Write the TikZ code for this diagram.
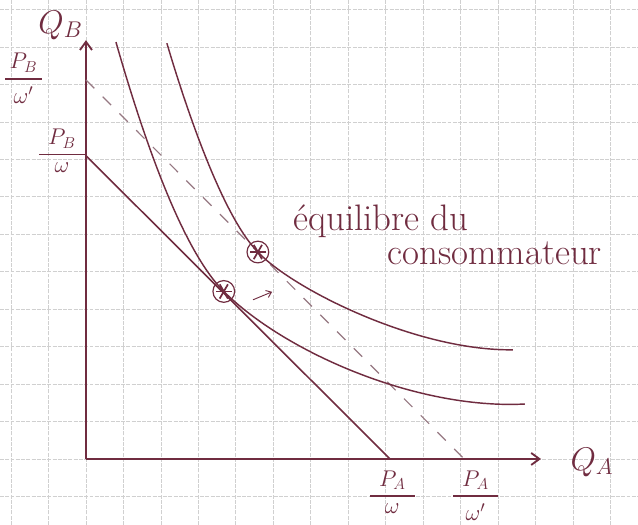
\documentclass[tikz,border=0pt]{standalone}
\usepackage{amsmath,amssymb}
\usepackage{tikz}
\usetikzlibrary{arrows.meta,positioning}
\definecolor{inkred}{RGB}{112,44,64}
\definecolor{inkpale}{RGB}{150,120,130}
\definecolor{gridgray}{RGB}{208,208,208}

\begin{document}
\begin{tikzpicture}[x=1cm,y=1.012cm,
    axisline/.style={inkred, line width=1.4pt},
    budget/.style={inkred, line width=1.2pt},
    indiff/.style={inkred, line width=1.1pt},
    marker/.style={circle, draw=inkred, line width=0.9pt, minimum size=5.8mm, inner sep=0pt,
      path picture={\foreach \a in {0,60,120}
        \draw[inkred, line width=1.3pt, shift={(path picture bounding box.center)}] (\a:2.2mm) -- (\a+180:2.2mm);}},
    fracbar/.style={fill=inkred, inner sep=0pt, minimum height=1.1pt},
    ticklabel/.style={inkred, inner sep=0pt, font=\fontsize{18}{21}\selectfont},
    handtext/.style={inkred, inner sep=0pt, font=\fontsize{28}{32}\selectfont}]
        \useasboundingbox (-2.296,-1.741) rectangle (14.74,12.11);
        \fill[white] (-2.296,-1.741) rectangle (14.74,12.11);
        \draw[gridgray, line width=0.5pt, dash pattern=on 3pt off 1pt] (-2.296,-1.741) grid (14.74,12.11);
        % axes
        \coordinate (O) at (0,0);
        \coordinate (ytop) at (0,11.05);
        \coordinate (xend) at (12.15,0);
        \draw[axisline, -{Straight Barb[length=2.2mm,width=3.2mm]}] (O) -- (ytop);
        \draw[axisline, -{Straight Barb[length=2.2mm,width=3.2mm]}] (O) -- (xend);
        \node[inkred, inner sep=0pt, font=\fontsize{26}{30}\selectfont] (QB) at (-0.68,11.45) {$Q_B$};
        \node[inkred, inner sep=0pt, font=\fontsize{26}{30}\selectfont] (QA) at (13.51,-0.08) {$Q_A$};
        % budget lines
        \coordinate (B1) at (0,8);
        \coordinate (A1) at (8.12,0);
        \coordinate (B2) at (0,10);
        \coordinate (A2) at (10.1,0);
        \draw[budget] (B1) -- (A1);
        \draw[inkpale, line width=0.9pt, dash pattern=on 9pt off 9pt] (B2) -- (A2);
        % intercept labels
        \node[fracbar, minimum width=12.5mm] (lb1) at (-0.64,8.03) {};
        \node[ticklabel, above=4pt of lb1] (lb1n) {$P_B$};
        \node[ticklabel, below=5pt of lb1] (lb1d) {$\omega$};
        \node[fracbar, minimum width=10mm] (lb2) at (-1.67,10.03) {};
        \node[ticklabel, above=4pt of lb2] (lb2n) {$P_B$};
        \node[ticklabel, below=5pt of lb2] (lb2d) {$\omega'$};
        \node[fracbar, minimum width=12mm] (la1) at (8.18,-0.98) {};
        \node[ticklabel, above=4pt of la1] (la1n) {$P_A$};
        \node[ticklabel, below=5pt of la1] (la1d) {$\omega$};
        \node[fracbar, minimum width=12mm] (la2) at (10.4,-0.98) {};
        \node[ticklabel, above=4pt of la2] (la2n) {$P_A$};
        \node[ticklabel, below=5pt of la2] (la2d) {$\omega'$};
        % indifference curves
        \coordinate (E1) at (3.68,4.42);
        \coordinate (E2) at (4.59,5.46);
        \draw[indiff] (0.80,11.0) .. controls (1.7,7.9) and (2.68,5.41) .. (E1)
          .. controls (5.28,2.84) and (8.8,1.3) .. (11.72,1.45);
        \draw[indiff] (2.16,10.97) .. controls (2.6,9.5) and (3.6,6.45) .. (E2)
          .. controls (5.5,4.5) and (8.8,2.85) .. (11.4,2.88);
        % equilibria
        \node[marker] (M1) at (E1) {};
        \node[marker] (M2) at (E2) {};
        \coordinate (mvs) at (4.46,4.2);
        \coordinate (mve) at (4.97,4.41);
        \draw[inkred, line width=0.7pt, -{Straight Barb[length=1.3mm,width=2mm]}] (mvs) -- (mve);
        \node[handtext, anchor=base west] (eqtop) at (5.53,6.02) {équilibre du};
        \node[handtext, anchor=base west] (eqbot) at (8.04,5.12) {consommateur};
      \end{tikzpicture}
\end{document}
